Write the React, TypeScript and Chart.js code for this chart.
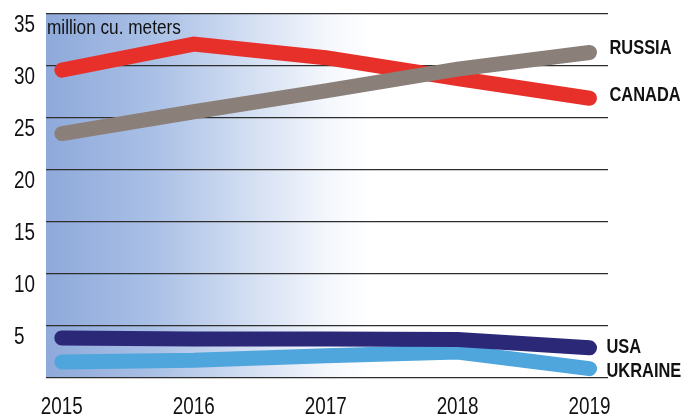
import React, { useEffect, useRef } from "react";
import { Chart, registerables } from "chart.js";

Chart.register(...registerables);

const years = [2015, 2016, 2017, 2018, 2019];
const russia = [23.5, 25.6, 27.6, 29.7, 31.3];
const canada = [29.6, 32.1, 30.8, 28.8, 26.9];
const usa = [3.85, 3.75, 3.75, 3.7, 2.9];
const ukraine = [1.55, 1.7, 2.15, 2.5, 0.9];
const yTicks = [0, 5, 10, 15, 20, 25, 30, 35];
const unitLabel = "million cu. meters";
const seriesNames = ["RUSSIA", "CANADA", "USA", "UKRAINE"];

const FONT = "'Liberation Sans', Arial, sans-serif";

function narrowText(ctx: any, text: string, x: number, y: number, align: string, font: string, sx: number) {
  ctx.save();
  ctx.translate(x, y);
  ctx.scale(sx, 1);
  ctx.font = font;
  ctx.textAlign = align;
  ctx.textBaseline = "middle";
  ctx.fillStyle = "#111";
  ctx.fillText(text, 0, 0);
  ctx.restore();
}

const bgPlugin = {
  id: "bgGradient",
  beforeDraw(chart: any) {
    const { ctx, chartArea } = chart;
    if (!chartArea) return;
    const g = ctx.createLinearGradient(chartArea.left, 0, chartArea.right, 0);
    g.addColorStop(0, "#8ea9da");
    g.addColorStop(0.2, "#abc1e6");
    g.addColorStop(0.36, "#d2def2");
    g.addColorStop(0.5, "#f4f7fc");
    g.addColorStop(0.58, "#ffffff");
    g.addColorStop(1, "#ffffff");
    ctx.save();
    ctx.fillStyle = g;
    ctx.fillRect(chartArea.left, chartArea.top, chartArea.right - chartArea.left, chartArea.bottom - chartArea.top);
    ctx.restore();
  },
};

const labelPlugin = {
  id: "endLabels",
  afterDraw(chart: any, _args: any, opts: any) {
    const { ctx, scales, chartArea } = chart;
    // y tick labels
    yTicks.forEach((v) => {
      if (v === 0) return;
      narrowText(ctx, String(v), 14, scales.y.getPixelForValue(v) + 12, "left", `23px ${FONT}`, 0.82);
    });
    // x tick labels
    years.forEach((yr) => {
      narrowText(ctx, String(yr), scales.x.getPixelForValue(yr), 408, "center", `23px ${FONT}`, 0.82);
    });
    // unit label
    narrowText(ctx, unitLabel, chartArea.left + 1, scales.y.getPixelForValue(35) + 14, "left", `20px ${FONT}`, 0.86);
    // series labels
    const offs = opts.offsets || [];
    chart.data.datasets.forEach((ds: any, i: number) => {
      const last = ds.data[ds.data.length - 1];
      const x = scales.x.getPixelForValue(last.x) + (offs[i] ? offs[i][0] : 18);
      const y = scales.y.getPixelForValue(last.y) + (offs[i] ? offs[i][1] : 0);
      narrowText(ctx, ds.label, x, y, "left", `bold 20px ${FONT}`, 0.82);
    });
  },
};

function toPts(vals: number[]) {
  return vals.map((v, i) => ({ x: years[i], y: v }));
}

export default function App() {
  const ref = useRef<HTMLCanvasElement | null>(null);
  useEffect(() => {
    document.body.style.margin = "0";
    if (!ref.current) return;
    const common = {
      borderWidth: 15,
      pointRadius: 0,
      pointHoverRadius: 0,
      tension: 0,
      borderCapStyle: "round" as const,
      borderJoinStyle: "miter" as const,
      fill: false,
    };
    const chart = new Chart(ref.current, {
      type: "line",
      data: {
        datasets: [
          { ...common, label: seriesNames[0], data: toPts(russia), borderColor: "#8a7f79" },
          { ...common, label: seriesNames[1], data: toPts(canada), borderColor: "#e8302a" },
          { ...common, label: seriesNames[2], data: toPts(usa), borderColor: "#2b2878" },
          { ...common, label: seriesNames[3], data: toPts(ukraine), borderColor: "#4fa6dc" },
        ],
      },
      options: {
        animation: false,
        responsive: false,
        layout: { padding: { left: 14, right: 88, top: 14, bottom: 0 } },
        plugins: {
          legend: { display: false },
          tooltip: { enabled: false },
          endLabels: { offsets: [[20, -4], [20, -3], [17, 0], [17, 3]] },
        } as any,
        scales: {
          x: {
            type: "linear",
            min: 2014.88,
            max: 2019.14,
            afterBuildTicks: (s: any) => {
              s.ticks = years.map((v) => ({ value: v }));
            },
            afterFit: (s: any) => {
              s.height = 42;
            },
            grid: { display: false },
            border: { display: false },
            ticks: { display: false },
          },
          y: {
            min: 0,
            max: 35,
            afterBuildTicks: (s: any) => {
              s.ticks = yTicks.map((v) => ({ value: v }));
            },
            afterFit: (s: any) => {
              s.width = 32;
            },
            border: { display: false },
            grid: { color: "#2e2e2e", lineWidth: 1.2, drawTicks: false },
            ticks: { display: false },
          },
        },
      },
      plugins: [bgPlugin, labelPlugin],
    });
    return () => chart.destroy();
  }, []);
  return (
    <div style={{ width: 696, height: 420 }}>
      <canvas ref={ref} width={696} height={420} style={{ display: "block" }} />
    </div>
  );
}
